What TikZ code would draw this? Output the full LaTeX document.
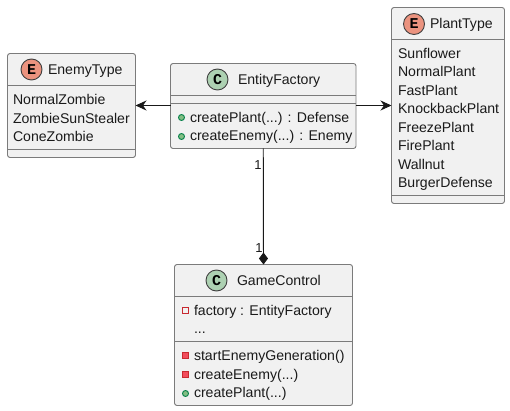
\documentclass[tikz,border=0pt]{standalone}
\usepackage{fontspec}
\setmainfont{Liberation Sans}
\setmonofont{Liberation Mono}
\usetikzlibrary{arrows.meta}
\definecolor{boxfill}{HTML}{F1F1F1}
\definecolor{boxline}{HTML}{7B7B7B}
\definecolor{enumicon}{HTML}{EB937F}
\definecolor{classicon}{HTML}{ADD1B2}
\definecolor{pubfill}{HTML}{84BE84}
\definecolor{publine}{HTML}{038048}
\definecolor{privfill}{HTML}{F24D5C}
\definecolor{privline}{HTML}{C82930}
\definecolor{txt}{HTML}{1A1A1A}
\tikzset{
  x=1pt,y=-1pt,
  every node/.style={inner sep=0pt,outer sep=0pt,text=txt},
  classbox/.style={draw=boxline,fill=boxfill,line width=0.9pt,rounded corners=2.5pt,minimum width=#1},
  sepline/.style={draw=boxline,line width=0.9pt},
  icon/.style={circle,draw=black!75,line width=0.9pt,minimum size=21pt,text=black,font=\fontsize{15}{15}\ttfamily\bfseries\selectfont},
  title/.style={anchor=base west,font=\fontsize{14.1}{14}\selectfont},
  member/.style={anchor=base west,font=\fontsize{14.1}{14}\selectfont},
  multi/.style={anchor=base,font=\fontsize{13}{13}\selectfont},
  pub/.style={circle,draw=publine,fill=pubfill,line width=0.9pt,minimum size=6pt},
  priv/.style={rectangle,draw=privline,fill=privfill,line width=0.9pt,minimum size=6.5pt},
  privopen/.style={rectangle,draw=privline,fill=none,line width=0.9pt,minimum size=6.5pt},
  assoc/.style={draw=black!90,line width=0.95pt,-{Stealth[length=11pt,width=10pt,inset=3.5pt]}},
  compos/.style={draw=black!90,line width=0.95pt,-{Diamond[length=12pt,width=9pt]}},
}
\begin{document}
\begin{tikzpicture}
\useasboundingbox[fill=white] (0,0) rectangle (510,411);

% EnemyType
\node[classbox=128pt,minimum height=104pt] (et) at (71.5,105.5) {};
\draw[sepline] (7.5,85.5) -- (135.5,85.5);
\draw[sepline] (7.5,149.5) -- (135.5,149.5);
\node[icon,fill=enumicon] (eti) at (31.5,69.5) {E};
\node[title] (ett) at (48,74.5) {EnemyType};
\node[member] (et1) at (13,105) {NormalZombie};
\node[member] (et2) at (13,123.5) {ZombieSunStealer};
\node[member] (et3) at (13,142) {ConeZombie};

% EntityFactory
\node[classbox=185.5pt,minimum height=85pt] (ef) at (263.25,106) {};
\draw[sepline] (170.5,95.5) -- (356,95.5);
\draw[sepline] (170.5,103.5) -- (356,103.5);
\node[icon,fill=classicon] (efi) at (217.5,79.5) {C};
\node[title] (eft) at (238,84.5) {EntityFactory};
\node[pub] (ef1b) at (181.5,117.5) {};
\node[member] (ef1) at (190,122.5) {createPlant(...) : Defense};
\node[pub] (ef2b) at (181.5,136.5) {};
\node[member] (ef2) at (190,141) {createEnemy(...) : Enemy};

% PlantType
\node[classbox=113pt,minimum height=196pt] (pt) at (448,105.5) {};
\draw[sepline] (391.5,39.5) -- (504.5,39.5);
\draw[sepline] (391.5,195.5) -- (504.5,195.5);
\node[icon,fill=enumicon] (pti) at (414,24) {E};
\node[title] (ptt) at (430,29) {PlantType};
\node[member] (pt1) at (398,58.5) {Sunflower};
\node[member] (pt2) at (398,77) {NormalPlant};
\node[member] (pt3) at (398,95.5) {FastPlant};
\node[member] (pt4) at (398,114) {KnockbackPlant};
\node[member] (pt5) at (398,132.5) {FreezePlant};
\node[member] (pt6) at (398,151) {FirePlant};
\node[member] (pt7) at (398,169.5) {Wallnut};
\node[member] (pt8) at (398,188) {BurgerDefense};

% GameControl
\node[classbox=178pt,minimum height=141pt] (gc) at (263.5,335) {};
\draw[sepline] (174.5,296.5) -- (352.5,296.5);
\draw[sepline] (174.5,341.5) -- (352.5,341.5);
\node[icon,fill=classicon] (gci) at (216.5,280.5) {C};
\node[title] (gct) at (237,285.5) {GameControl};
\node[privopen] (gc1b) at (185.5,310.5) {};
\node[member] (gc1) at (194,315) {factory : EntityFactory};
\node[member] (gc2) at (194,333.5) {...};
\node[priv] (gc3b) at (185.5,355.5) {};
\node[member] (gc3) at (194,360) {startEnemyGeneration()};
\node[priv] (gc4b) at (185.5,374.5) {};
\node[member] (gc4) at (194,379) {createEnemy(...)};
\node[pub] (gc5b) at (185.5,393.5) {};
\node[member] (gc5) at (194,397.5) {createPlant(...)};

% Connectors
\draw[assoc] (ef.west |- et.east) -- (et.east);
\draw[assoc] (ef.east |- pt.west) -- (pt.west);
\draw[compos] (ef.south) -- (gc.north);
\node[multi] (m1) at (258,170) {1};
\node[multi] (m2) at (259,252.5) {1};
\end{tikzpicture}
\end{document}
